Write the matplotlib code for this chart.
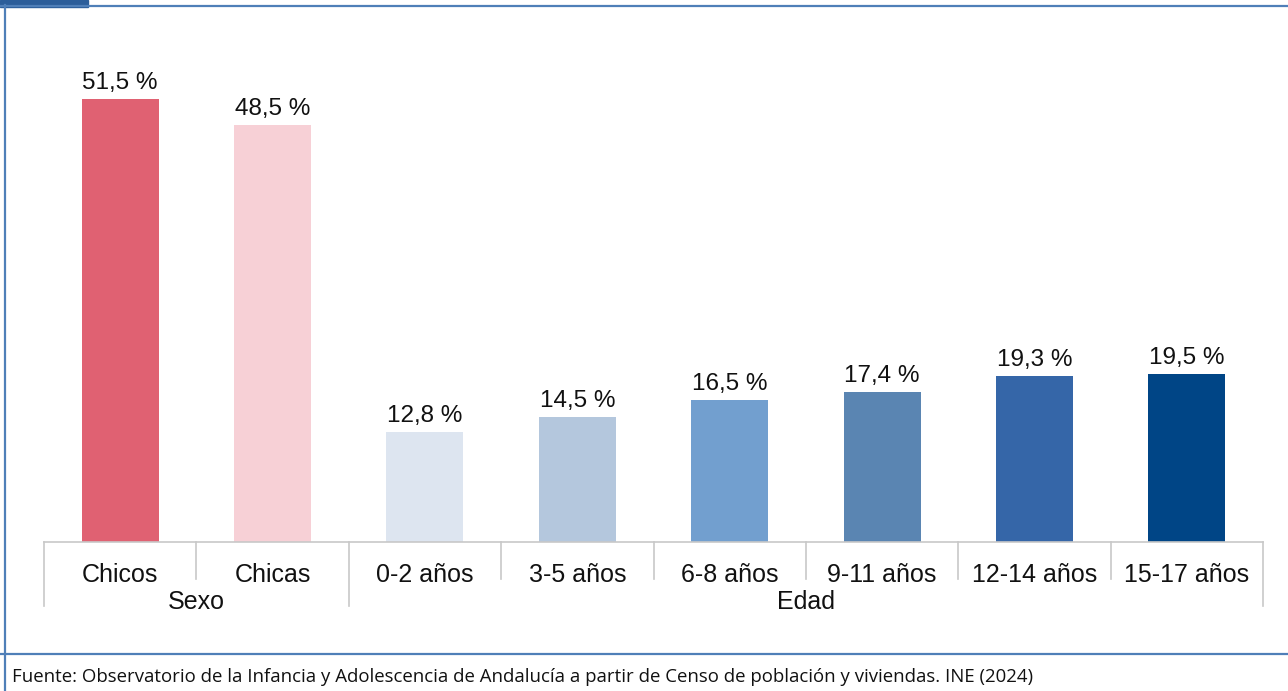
import matplotlib
matplotlib.use("Agg")
import matplotlib.pyplot as plt
from matplotlib.patches import Rectangle
from matplotlib.lines import Line2D

categories = ["Chicos", "Chicas", "0-2 años", "3-5 años", "6-8 años", "9-11 años", "12-14 años", "15-17 años"]
values = [51.5, 48.5, 12.8, 14.5, 16.5, 17.4, 19.3, 19.5]
colors = ["#E06172", "#F7D0D6", "#DDE5F0", "#B4C7DD", "#729FCF", "#5A85B2", "#3566A8", "#004586"]
groups = ["Sexo", "Edad"]
group_sizes = [2, 6]
footer = "Fuente: Observatorio de la Infancia y Adolescencia de Andalucía a partir de Censo de población y viviendas. INE (2024)"

plt.rcParams['font.family'] = ['Liberation Sans', 'DejaVu Sans']
W, H = 1288, 691
fig = plt.figure(figsize=(W / 100, H / 100), dpi=100)

ax_left, ax_right, ax_bottom, ax_top = 44, 1263, 542, 26
ax = fig.add_axes([ax_left / W, (H - ax_bottom) / H, (ax_right - ax_left) / W, (ax_bottom - ax_top) / H])
x = list(range(len(categories)))
ax.bar(x, values, width=0.505, color=colors)
ax.set_xlim(-0.5, len(categories) - 0.5)
ax.set_ylim(0, 60)
for s in ["top", "right", "left"]:
    ax.spines[s].set_visible(False)
ax.spines["bottom"].set_color("#C8C8C8")
ax.spines["bottom"].set_linewidth(1.2)
ax.set_yticks([])
ax.set_xticks([])

axh = ax_bottom - ax_top
for xi, v in zip(x, values):
    ax.annotate(f"{v:.1f} %".replace(".", ","), (xi, v), xytext=(0, 3.5), textcoords="offset points",
                ha="center", va="bottom", fontsize=17.5, color="#111111")

trans = ax.get_xaxis_transform()
for xi, c in zip(x, categories):
    ax.text(xi, -(575 - ax_bottom) / axh, c, transform=trans, ha="center", va="center", fontsize=18, color="#111111")

# separators
boundaries_major = [-0.5]
pos = -0.5
for g in group_sizes:
    pos += g
    boundaries_major.append(pos)
for b in [i - 0.5 for i in range(len(categories) + 1)]:
    length = 64 if b in boundaries_major else 37
    ax.add_line(Line2D([b, b], [0, -length / axh], transform=trans, color="#C8C8C8", lw=1.2, clip_on=False))

start = -0.5
for g, n in zip(groups, group_sizes):
    center = start + n / 2
    ax.text(center, -(602 - ax_bottom) / axh, g, transform=trans, ha="center", va="center", fontsize=18, color="#111111")
    start += n

# frame
def fy(py):
    return (H - py) / H

def fx(px):
    return px / W

frame_col = "#4F7FB8"
fig.add_artist(Line2D([fx(0), fx(W)], [fy(5.5), fy(5.5)], color=frame_col, lw=1.6))
fig.add_artist(Line2D([fx(4.8), fx(4.8)], [fy(5), fy(H)], color=frame_col, lw=1.6))
fig.add_artist(Line2D([fx(0), fx(W)], [fy(653.5), fy(653.5)], color=frame_col, lw=1.6))
fig.add_artist(Rectangle((0, fy(6.5)), fx(88), 6.5 / H, color="#2C5E9A", transform=fig.transFigure))

fig.text(fx(12), fy(677), footer, ha="left", va="center", fontsize=13.4, family=["Open Sans", "DejaVu Sans"], color="#111111")

fig.savefig("out.png", dpi=100)
